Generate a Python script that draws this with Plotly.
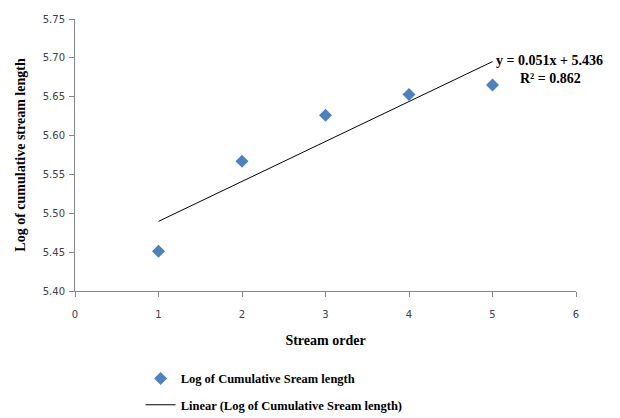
import numpy as np
import plotly.graph_objects as go

stream_order = [1, 2, 3, 4, 5]
log_cum_length = [5.451, 5.567, 5.626, 5.653, 5.665]
x_ticks = [0, 1, 2, 3, 4, 5, 6]
y_ticks = [5.40, 5.45, 5.50, 5.55, 5.60, 5.65, 5.70, 5.75]

slope, intercept = np.polyfit(stream_order, log_cum_length, 1)
trend_x = [min(stream_order), max(stream_order)]
trend_y = [slope * v + intercept for v in trend_x]

serif = "Liberation Serif, Times New Roman, serif"

fig = go.Figure()
fig.add_trace(go.Scatter(
    x=stream_order, y=log_cum_length, mode="markers",
    marker=dict(symbol="diamond", size=10, color="#4F81BD"),
    name="<b>Log of Cumulative Sream length</b>", legendgroup="a"))
fig.add_trace(go.Scatter(
    x=trend_x, y=trend_y, mode="lines",
    line=dict(color="black", width=1),
    name="<b>Linear (Log of Cumulative Sream length)</b>", legendgroup="b"))

fig.add_annotation(x=0.836, xref="paper", y=5.696, yref="y", xanchor="left", yanchor="middle",
                   text="<b>y = 0.051x + 5.436</b>", showarrow=False,
                   font=dict(family=serif, size=14, color="black"))
fig.add_annotation(x=0.884, xref="paper", y=5.673, yref="y", xanchor="left", yanchor="middle",
                   text="<b>R² = 0.862</b>", showarrow=False,
                   font=dict(family=serif, size=14, color="black"))

axis_common = dict(showgrid=False, zeroline=False, showline=True, automargin=False,
                   linecolor="#868686", linewidth=1, ticks="outside",
                   tickcolor="#868686", ticklen=5,
                   tickfont=dict(family="DejaVu Sans, sans-serif", size=10, color="#404040"))

fig.update_xaxes(range=[0, 6], tickvals=x_ticks, ticktext=[str(v) for v in x_ticks],
                 ticklabelstandoff=9,
                 title=dict(text="<b>Stream order</b>", font=dict(family=serif, size=14, color="black"),
                            standoff=16),
                 **axis_common)
fig.update_yaxes(range=[5.40, 5.75], tickvals=y_ticks, ticktext=[f"{v:.2f}" for v in y_ticks],
                 ticklabelstandoff=2,
                 title=dict(text="<b>Log of cumulative stream length</b>",
                            font=dict(family=serif, size=14, color="black"), standoff=13),
                 **axis_common)

fig.update_layout(
    width=620, height=440,
    margin=dict(l=67, r=52, t=11, b=157),
    plot_bgcolor="white", paper_bgcolor="white",
    showlegend=True,
    legend=dict(x=0.131, y=-0.268, xanchor="left", yanchor="top",
                font=dict(family=serif, size=12.5, color="black"),
                traceorder="grouped", tracegroupgap=7,
                bgcolor="rgba(0,0,0,0)", itemwidth=30),
)

fig.write_html("out.html")
